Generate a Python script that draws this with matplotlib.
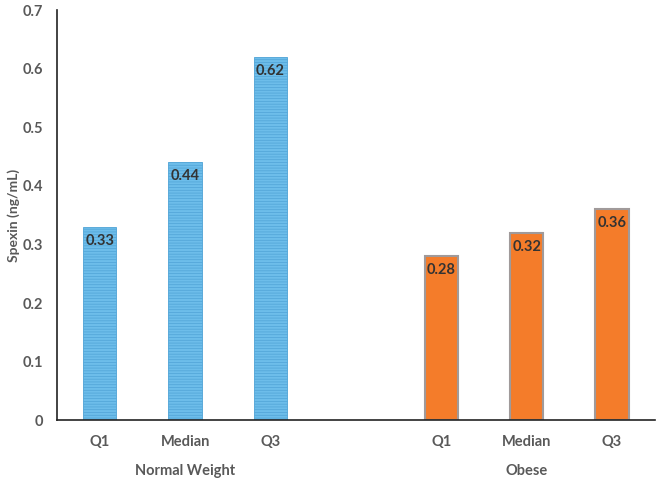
import matplotlib.pyplot as plt
import matplotlib as mpl

categories = ["Q1", "Median", "Q3", "Q1", "Median", "Q3"]
groups = ["Normal Weight", "Obese"]
normal_values = [0.33, 0.44, 0.62]
obese_values = [0.28, 0.32, 0.36]

mpl.rcParams['font.family'] = ['Lato', 'DejaVu Sans']
mpl.rcParams['hatch.linewidth'] = 0.5

fig = plt.figure(figsize=(6.56, 4.83), dpi=100)
ax = fig.add_axes([0.087, 0.130, 0.911, 0.849])

pos_normal = [0, 1, 2]
pos_obese = [4, 5, 6]
w = 0.39

mpl.rcParams['hatch.color'] = '#4FA3D6'
bn = ax.bar(pos_normal, normal_values, width=w, color='#6DBDEA', edgecolor='#4FA3D6',
            hatch='------', linewidth=0.6)
bo = ax.bar(pos_obese, obese_values, width=w, color='#F47C2A', edgecolor='#A09A9A',
            linewidth=1.5)

for p, v in list(zip(pos_normal, normal_values)) + list(zip(pos_obese, obese_values)):
    ax.text(p, v - 0.012, f"{v:.2f}", ha='center', va='top',
            fontsize=10.5, fontweight='bold', color='#333333')

ax.set_xlim(-0.5, 6.5)
ax.set_ylim(0, 0.7)
ax.set_yticks([0, 0.1, 0.2, 0.3, 0.4, 0.5, 0.6, 0.7])
ax.set_yticklabels(['0', '0.1', '0.2', '0.3', '0.4', '0.5', '0.6', '0.7'])
ax.set_xticks(pos_normal + pos_obese)
ax.set_xticklabels(categories)
ax.tick_params(axis='both', length=0, labelsize=10.5, colors='#595959')
ax.tick_params(axis='x', pad=11)
ax.tick_params(axis='y', pad=10)
for lab in ax.get_xticklabels() + ax.get_yticklabels():
    lab.set_fontweight('bold')

for s in ['top', 'right']:
    ax.spines[s].set_visible(False)
ax.spines['left'].set_color('#222222')
ax.spines['bottom'].set_color('#222222')
ax.spines['left'].set_linewidth(1.2)
ax.spines['bottom'].set_linewidth(1.2)

ax.set_ylabel('Spexin (ng/mL)', fontsize=10, fontweight='bold', color='#595959')
ax.yaxis.set_label_coords(-0.062, 0.5)

for gx, g in zip([1, 5], groups):
    ax.text(gx, -0.087, g, ha='center', va='center', fontsize=10.5, fontweight='bold',
            color='#595959', clip_on=False)

fig.savefig('out.png', dpi=100)
